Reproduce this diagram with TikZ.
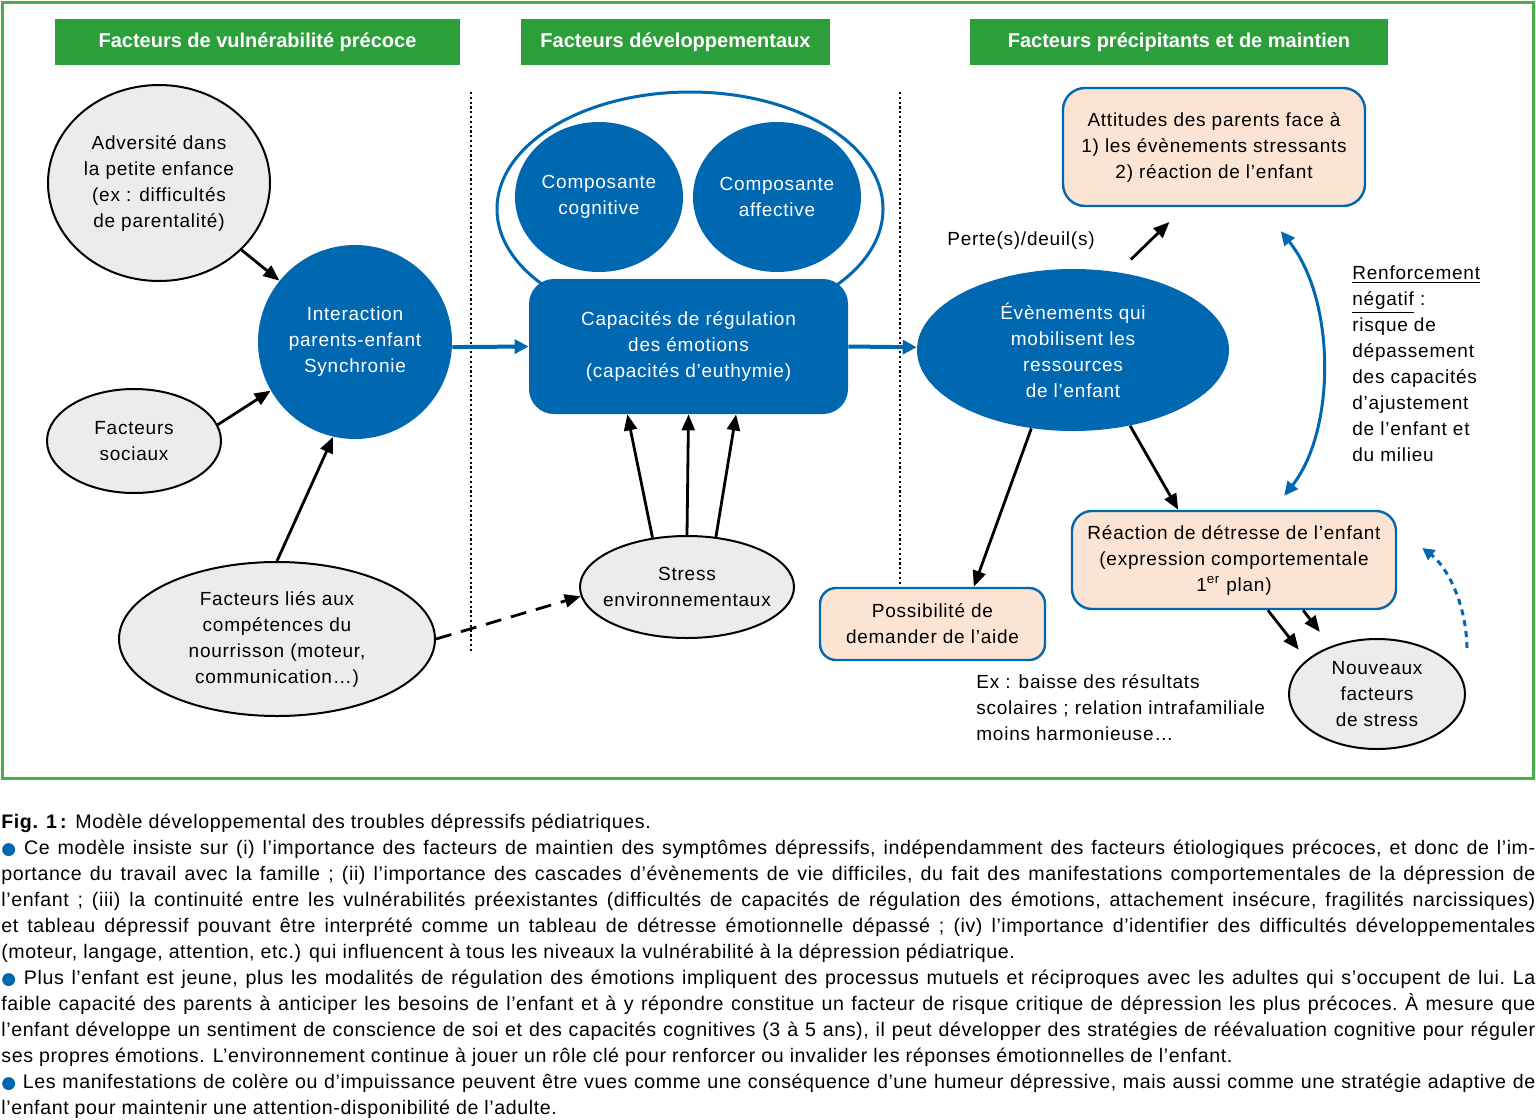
\documentclass[tikz,border=0pt]{standalone}
\usepackage{fontspec}
\setmainfont{Liberation Sans}
\newfontfamily\dfam{Liberation Sans}[LetterSpace=4]
\newfontfamily\capfam{Liberation Sans}[LetterSpace=3]
\newfontfamily\symf{DejaVu Sans}
\usetikzlibrary{shapes.geometric,arrows.meta,calc}
\definecolor{figblue}{RGB}{0,103,177}
\definecolor{fighdr}{RGB}{44,158,58}
\definecolor{figframe}{RGB}{70,176,74}
\definecolor{figgray}{RGB}{236,236,236}
\definecolor{figpeach}{RGB}{252,228,213}
\newcommand\dfont{\dfam\fontsize{9.5}{13}\selectfont}
\newcommand\capfont{\capfam\fontsize{9.8}{13}\selectfont}
\newcommand\hfont{\bfseries\fontsize{10}{12}\selectfont}
\newcommand\bul{{\color{figblue}\symf\fontsize{8.5}{8}\selectfont ●}}
\newcommand\jline[1]{\hbox to 767pt{\frenchspacing\spaceskip=0.278em plus 2em minus 0.1em\relax #1}}
\tikzset{
  dtxt/.style={font=\dfont, align=center, inner sep=0pt, text=black},
  wtxt/.style={dtxt, text=white},
  grayell/.style={ellipse, draw=black, line width=1pt, fill=figgray, inner sep=0pt},
  blueell/.style={ellipse, fill=figblue, inner sep=0pt},
  peachbox/.style={rectangle, draw=figblue, line width=1.2pt, fill=figpeach, inner sep=0pt},
  hdr/.style={rectangle, fill=fighdr, text=white, font=\hfont, inner sep=0pt},
  arr/.style={draw=black, line width=1.4pt, -{Triangle[length=8pt,width=6.5pt]}},
  barr/.style={draw=figblue, line width=2pt, -{Triangle[length=7pt,width=7pt]}},
  dotsep/.style={draw=black, line width=1.1pt, dash pattern=on 1.1pt off 1.3pt},
  capl/.style={anchor=base west, inner sep=0pt, font=\capfont},
}
\begin{document}
\begin{tikzpicture}[x=0.5pt,y=-0.5pt]
\useasboundingbox (0,0) rectangle (1536,1119);
\fill[white] (0,0) rectangle (1536,1119);
% frame
\draw[figframe, line width=1.5pt] (2,2) rectangle (1533,778);
% headers
\node[hdr, minimum width=202.5pt, minimum height=23pt] (h1) at (257.5,42) {Facteurs de vulnérabilité précoce};
\node[hdr, minimum width=154.5pt, minimum height=23pt] (h2) at (675.5,42) {Facteurs développementaux};
\node[hdr, minimum width=209pt, minimum height=23pt] (h3) at (1179,42) {Facteurs précipitants et de maintien};
% separators
\draw[dotsep] (471,92) -- (471,652);
\draw[dotsep] (900,92) -- (900,585);
% left column
\node[grayell, minimum width=111pt, minimum height=98pt] (adv) at (159,183) {};
\node[dtxt] (advt) at (adv) {Adversité dans\\la petite enfance\\(ex : difficultés\\de parentalité)};
\node[blueell, minimum width=97pt, minimum height=97pt] (inter) at (355,342) {};
\node[wtxt] (intert) at (inter) {Interaction\\parents-enfant\\Synchronie};
\node[grayell, minimum width=87pt, minimum height=52pt] (soc) at (134,441) {};
\node[dtxt] (soct) at (soc) {Facteurs\\sociaux};
\node[grayell, minimum width=158pt, minimum height=77pt] (lies) at (277,639) {};
\node[dtxt] (liest) at (lies) {Facteurs liés aux\\compétences du\\nourrisson (moteur,\\communication…)};
% middle column
\node[ellipse, draw=figblue, line width=1.5pt, fill=white, minimum width=193pt, minimum height=117pt, inner sep=0pt] (outer) at (690,209) {};
\node[blueell, minimum width=84pt, minimum height=75pt] (cog) at (599,197) {};
\node[wtxt] (cogt) at (cog) {Composante\\cognitive};
\node[blueell, minimum width=84pt, minimum height=75pt] (aff) at (777,197) {};
\node[wtxt] (afft) at (aff) {Composante\\affective};
\node[rectangle, rounded corners=12.5pt, fill=figblue, minimum width=159.5pt, minimum height=67.5pt, inner sep=0pt] (capac) at (688.5,346.5) {};
\node[wtxt] (capact) at (capac) {Capacités de régulation\\des émotions\\(capacités d’euthymie)};
\node[grayell, minimum width=107pt, minimum height=51pt] (stress) at (687,587) {};
\node[dtxt] (stresst) at (stress) {Stress\\environnementaux};
% right column
\node[blueell, minimum width=156pt, minimum height=81pt] (even) at (1073,350) {};
\node[wtxt] (event) at (even) {Évènements qui\\mobilisent les\\ressources\\de l’enfant};
\node[peachbox, rounded corners=11pt, minimum width=151pt, minimum height=59pt] (att) at (1214,147) {};
\node[dtxt] (attt) at (att) {Attitudes des parents face à\\1) les évènements stressants\\2) réaction de l’enfant};
\node[peachbox, rounded corners=10pt, minimum width=162pt, minimum height=49pt] (react) at (1234,560) {};
\node[dtxt] (reactt) at (react) {Réaction de détresse de l’enfant\\(expression comportementale\\1\textsuperscript{er} plan)};
\node[peachbox, rounded corners=8pt, minimum width=112.5pt, minimum height=36pt] (poss) at (932.5,624) {};
\node[dtxt] (posst) at (poss) {Possibilité de\\demander de l’aide};
\node[grayell, minimum width=88pt, minimum height=55pt] (nouv) at (1377,694) {};
\node[dtxt] (nouvt) at (nouv) {Nouveaux\\facteurs\\de stress};
\node[dtxt] (perte) at (1021,241) {Perte(s)/deuil(s)};
\node[dtxt, align=left, anchor=west] (ex) at (976,708) {Ex : baisse des résultats\\scolaires ; relation intrafamiliale\\moins harmonieuse…};
\node[dtxt, align=left, anchor=west] (renf) at (1352,364) {\underline{Renforcement}\\\underline{négatif} :\\risque de\\dépassement\\des capacités\\d’ajustement\\de l’enfant et\\du milieu};
% connectors
\draw[arr] (adv) -- (inter);
\draw[arr] (soc.11) -- (inter.-150);
\draw[arr] (lies.north) -- (inter.-103);
\draw[arr, dash pattern=on 8pt off 5pt] (lies.east) -- (stress.185);
\draw[barr] (inter.-3) -- (capac.west);
\draw[barr] (capac.east) -- (even.179);
\draw[arr] (stress.125) -- (capac.-132);
\draw[arr] (stress.north) -- (capac.south);
\draw[arr] (stress.60) -- (capac.-55);
\draw[arr, shorten <=9pt, shorten >=10.6pt] (even.60) -- (att.-116);
\draw[arr] (even.-118) -- (poss.42);
\draw[arr] (even.-53) -- (react.138);
\draw[arr, shorten >=6.4pt] (react.-56) -- (nouv.154);
\draw[arr, shorten >=9pt] (react.-36) -- (nouv.134);
\draw[draw=figblue, line width=1.5pt, {Triangle[length=7pt,width=6.5pt]}-{Triangle[length=7pt,width=6.5pt]}] ($(att.-42)+(0,24)$) .. controls (1336,300) and (1336,430) .. ($(react.45)+(0,-14)$);
\draw[draw=figblue, line width=1.5pt, dash pattern=on 3pt off 2.5pt, -{Triangle[length=6pt,width=6pt]}] ($(nouv.east)+(1,-46)$) .. controls (1466,600) and (1445,565) .. ($(react.east)+(25,-12)$);
% caption
\node[capl] (c1) at (1,828) {\textbf{Fig. 1\,:} Modèle développemental des troubles dépressifs pédiatriques.};
\node[capl] (c2) at (1,854) {\jline{\bul\ Ce modèle insiste sur (i) l’importance des facteurs de maintien des symptômes dépressifs, indépendamment des facteurs étiologiques précoces, et donc de l’im-}};
\node[capl] (c3) at (1,880) {\jline{portance du travail avec la famille ; (ii) l’importance des cascades d’évènements de vie difficiles, du fait des manifestations comportementales de la dépression de}};
\node[capl] (c4) at (1,906) {\jline{l’enfant ; (iii) la continuité entre les vulnérabilités préexistantes (difficultés de capacités de régulation des émotions, attachement insécure, fragilités narcissiques)}};
\node[capl] (c5) at (1,932) {\jline{et tableau dépressif pouvant être interprété comme un tableau de détresse émotionnelle dépassé ; (iv) l’importance d’identifier des difficultés développementales}};
\node[capl] (c6) at (1,958) {(moteur, langage, attention, etc.) qui influencent à tous les niveaux la vulnérabilité à la dépression pédiatrique.};
\node[capl] (c7) at (1,984) {\jline{\bul\ Plus l’enfant est jeune, plus les modalités de régulation des émotions impliquent des processus mutuels et réciproques avec les adultes qui s’occupent de lui. La}};
\node[capl] (c8) at (1,1010) {\jline{faible capacité des parents à anticiper les besoins de l’enfant et à y répondre constitue un facteur de risque critique de dépression les plus précoces. À mesure que}};
\node[capl] (c9) at (1,1036) {\jline{l’enfant développe un sentiment de conscience de soi et des capacités cognitives (3 à 5 ans), il peut développer des stratégies de réévaluation cognitive pour réguler}};
\node[capl] (c10) at (1,1062) {ses propres émotions. L’environnement continue à jouer un rôle clé pour renforcer ou invalider les réponses émotionnelles de l’enfant.};
\node[capl] (c11) at (1,1088) {\jline{\bul\ Les manifestations de colère ou d’impuissance peuvent être vues comme une conséquence d’une humeur dépressive, mais aussi comme une stratégie adaptive de}};
\node[capl] (c12) at (1,1114) {l’enfant pour maintenir une attention-disponibilité de l’adulte.};
\end{tikzpicture}
\end{document}
